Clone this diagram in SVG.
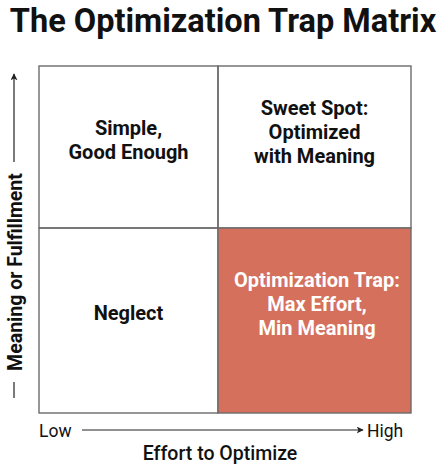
<svg xmlns="http://www.w3.org/2000/svg" width="444" height="465" viewBox="0 0 444 465">
<style>
.t{font-family:Roboto,"Liberation Sans",sans-serif;font-weight:700;fill:#111;text-anchor:middle}
.lbl{font-size:20px}
.wt{fill:#fff}
.grid{fill:none;stroke:#6b6b6b;stroke-width:1.4}
.ax{stroke:#222;stroke-width:1.2;fill:none}
.rg{font-family:Roboto,"Liberation Sans",sans-serif;font-weight:400;fill:#111;font-size:17.5px}
</style>
<defs>
<marker id="ah" viewBox="0 0 10 10" refX="9" refY="5" markerWidth="7" markerHeight="7" markerUnits="userSpaceOnUse" orient="auto">
<path d="M0,0 L10,5 L0,10 L2.5,5 Z" fill="#222"/>
</marker>
</defs>
<rect width="444" height="465" fill="#fff"/>
<text class="t" x="223" y="32" style="font-size:32.5px">The Optimization Trap Matrix</text>
<g id="quad-simple">
<rect class="grid" x="39" y="66" width="179" height="162"/>
<text class="t lbl" x="128.5" y="135">Simple,</text>
<text class="t lbl" x="128.5" y="159">Good Enough</text>
</g>
<g id="quad-sweet">
<rect class="grid" x="218" y="66" width="193" height="162"/>
<text class="t lbl" x="314.5" y="115">Sweet Spot:</text>
<text class="t lbl" x="314.5" y="139">Optimized</text>
<text class="t lbl" x="314.5" y="163">with Meaning</text>
</g>
<g id="quad-neglect">
<rect class="grid" x="39" y="228" width="179" height="185"/>
<text class="t lbl" x="128.5" y="320">Neglect</text>
</g>
<g id="quad-trap">
<rect x="218" y="228" width="193" height="185" fill="#d4705c" stroke="#6b6b6b" stroke-width="1.4"/>
<text class="t lbl wt" x="317" y="287">Optimization Trap:</text>
<text class="t lbl wt" x="317" y="311">Max Effort,</text>
<text class="t lbl wt" x="317" y="335">Min Meaning</text>
</g>
<g id="connectors">
<line class="ax" x1="14" y1="162" x2="14" y2="74" marker-end="url(#ah)"/>
<line class="ax" x1="14" y1="382" x2="14" y2="398"/>
<line class="ax" x1="82" y1="430" x2="363" y2="430" marker-end="url(#ah)"/>
</g>
<g id="axis-labels">
<text class="t" style="font-size:19.5px" transform="translate(22,272) rotate(-90)">Meaning or Fulfillment</text>
<text class="rg" x="39" y="437">Low</text>
<text class="rg" x="367" y="437">High</text>
<text class="t" x="220" y="460" style="font-weight:500;font-size:19.5px">Effort to Optimize</text>
</g>
</svg>
